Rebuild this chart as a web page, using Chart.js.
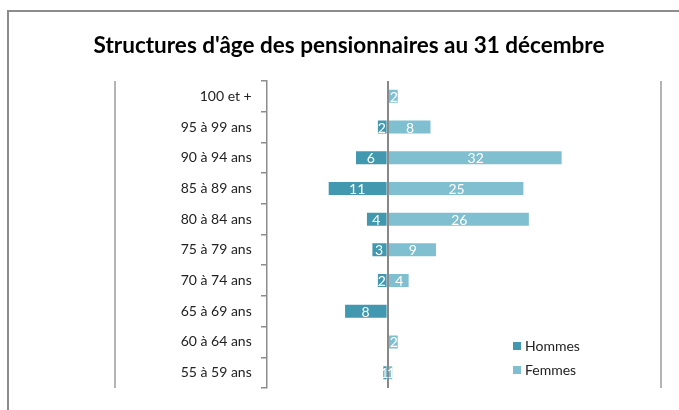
<!DOCTYPE html>
<html>
<head>
<meta charset="utf-8">
<script src="https://cdn.jsdelivr.net/npm/chart.js@4.4.0/dist/chart.umd.min.js"></script>
<style>
  html, body { margin: 0; padding: 0; background: #fff; }
  #wrap { position: relative; width: 679px; height: 410px; overflow: hidden; }
  #frame { position: absolute; left: 7px; top: 10px; width: 700px; height: 420px; border: 2px solid #8c8c8c; box-sizing: border-box; }
  #myChart { position: absolute; left: 0; top: 0; }
</style>
</head>
<body>
<div id="wrap">
  <div id="frame"></div>
  <canvas id="myChart" width="679" height="410"></canvas>
</div>
<script>
// Data
const categories = ['100 et +', '95 à 99 ans', '90 à 94 ans', '85 à 89 ans', '80 à 84 ans',
                    '75 à 79 ans', '70 à 74 ans', '65 à 69 ans', '60 à 64 ans', '55 à 59 ans'];
const hommes = [0, 2, 6, 11, 4, 3, 2, 8, 0, 1];
const femmes = [2, 8, 32, 25, 26, 9, 4, 0, 2, 1];
const seriesNames = ['Hommes', 'Femmes'];
const seriesColors = ['#4198AF', '#80BFCF'];
const gridValues = [-50, 0, 50];

const fontFamily = "Lato, 'DejaVu Sans', sans-serif";

// Hommes drawn to the left of zero
const hommesNeg = hommes.map(v => -v);

// Value labels inside bars
const barLabels = {
    id: 'barLabels',
    afterDatasetsDraw(chart) {
        const ctx = chart.ctx;
        ctx.save();
        ctx.font = '14px ' + fontFamily;
        ctx.fillStyle = '#ffffff';
        ctx.textAlign = 'center';
        ctx.textBaseline = 'middle';
        chart.data.datasets.forEach((ds, i) => {
            const meta = chart.getDatasetMeta(i);
            meta.data.forEach((bar, j) => {
                const v = Math.abs(ds.data[j]);
                if (!v) return;
                ctx.fillText(String(v), (bar.x + bar.base) / 2, bar.y + 1);
            });
        });
        ctx.restore();
    }
};

// Legend in the lower right of the plot
const cornerLegend = {
    id: 'cornerLegend',
    afterDraw(chart) {
        const ctx = chart.ctx;
        const area = chart.chartArea;
        const x0 = area.right - 148;
        const y0 = area.top + 265;
        ctx.save();
        ctx.font = '14px ' + fontFamily;
        ctx.textBaseline = 'middle';
        ctx.textAlign = 'left';
        chart.data.datasets.forEach((ds, i) => {
            const y = y0 + i * 24;
            ctx.fillStyle = ds.backgroundColor;
            ctx.fillRect(x0, y - 4, 8, 8);
            ctx.fillStyle = '#222222';
            ctx.fillText(ds.label, x0 + 12, y);
        });
        ctx.restore();
    }
};

const ctx = document.getElementById('myChart').getContext('2d');
const myChart = new Chart(ctx, {
    type: 'bar',
    data: {
        labels: categories,
        datasets: [
            { label: seriesNames[0], data: hommesNeg, backgroundColor: seriesColors[0],
              borderColor: 'rgba(255,255,255,0.6)', borderWidth: 1 },
            { label: seriesNames[1], data: femmes, backgroundColor: seriesColors[1],
              borderColor: 'rgba(255,255,255,0.6)', borderWidth: 1 }
        ]
    },
    options: {
        indexAxis: 'y',
        responsive: false,
        animation: false,
        layout: { padding: { left: 37, right: 18, top: 0, bottom: 22 } },
        datasets: { bar: { categoryPercentage: 1, barPercentage: 0.49 } },
        plugins: {
            legend: { display: false },
            tooltip: { enabled: false },
            title: {
                display: true,
                text: "Structures d'âge des pensionnaires au 31 décembre",
                color: '#000000',
                font: { family: fontFamily, size: 22.5, weight: 'bold' },
                padding: { top: 32, bottom: 22 }
            }
        },
        scales: {
            x: {
                stacked: true,
                min: -64.2,
                max: 50,
                afterBuildTicks: s => { s.ticks = gridValues.map(v => ({ value: v })); },
                ticks: { display: false },
                border: { display: false },
                grid: {
                    drawTicks: false,
                    color: c => c.tick && c.tick.value === 0 ? '#888888' : '#b4b4b4',
                    lineWidth: 2
                }
            },
            y: {
                stacked: true,
                position: { x: -22.1 },
                ticks: { display: false },
                border: { display: true, color: '#8c8c8c', width: 1.5 },
                grid: { offset: true, drawOnChartArea: false, drawTicks: true, tickLength: 5, color: '#8c8c8c', lineWidth: 1.5 }
            },
            yLabels: {
                type: 'category',
                axis: 'y',
                position: { x: -24.9 },
                ticks: { color: '#222222', font: { family: fontFamily, size: 14 } },
                border: { display: false },
                grid: { display: false }
            }
        }
    },
    plugins: [barLabels, cornerLegend]
});
</script>
</body>
</html>
